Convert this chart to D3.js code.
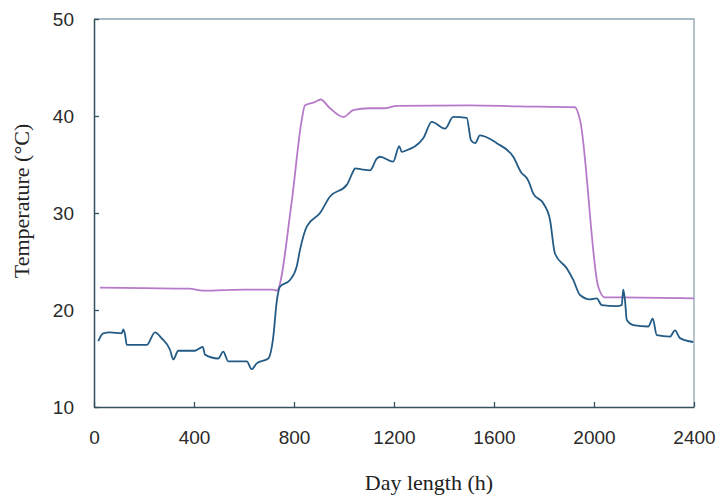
<!DOCTYPE html>
<html>
<head>
<meta charset="utf-8">
<script src="https://cdn.jsdelivr.net/npm/d3@7/dist/d3.min.js"></script>
<style>
  html, body { margin: 0; padding: 0; background: #ffffff; }
  svg { display: block; }
</style>
</head>
<body>
<svg id="chart" width="720" height="496"></svg>
<script>
// Set-point temperature over the run (hours, °C)
const setpointHours = [24, 200, 380, 436, 520, 600, 716, 731, 790, 831, 844, 880, 907, 940, 997, 1037, 1100, 1160, 1211, 1500, 1700, 1924, 1944, 2017, 2044, 2100, 2400];
const setpointTemp  = [22.3, 22.25, 22.2, 22.0, 22.05, 22.1, 22.1, 22.0, 31.0, 39.6, 41.1, 41.4, 41.7, 40.9, 39.9, 40.6, 40.8, 40.8, 41.05, 41.1, 41.0, 40.9, 39.6, 22.4, 21.3, 21.3, 21.2];

// Measured temperature over the run (hours, °C)
const measuredHours = [17, 37, 64, 111, 117, 124, 131, 211, 244, 270, 304, 317, 337, 404, 435, 444, 497, 517, 537, 611, 631, 651, 697, 717, 731, 744, 784, 811, 824, 851, 904, 944, 1011, 1037, 1044, 1070, 1104, 1131, 1144, 1197, 1221, 1231, 1244, 1317, 1351, 1404, 1437, 1491, 1508, 1524, 1544, 1611, 1677, 1711, 1731, 1741, 1757, 1797, 1824, 1844, 1891, 1917, 1944, 1984, 2011, 2031, 2091, 2111, 2117, 2124, 2131, 2157, 2217, 2235, 2251, 2304, 2324, 2344, 2397];
const measuredTemp  = [16.8, 17.6, 17.7, 17.6, 18.0, 17.5, 16.4, 16.4, 17.7, 17.1, 15.9, 14.9, 15.8, 15.8, 16.2, 15.4, 15.0, 15.7, 14.7, 14.7, 13.9, 14.5, 15.0, 17.2, 20.9, 22.4, 23.1, 24.5, 26.2, 28.6, 30.0, 31.7, 32.9, 34.3, 34.6, 34.5, 34.4, 35.6, 35.8, 35.3, 36.9, 36.3, 36.4, 37.7, 39.4, 38.7, 39.9, 39.8, 37.5, 37.2, 38.0, 37.2, 35.8, 34.1, 33.6, 33.1, 32.0, 31.0, 29.3, 25.8, 24.3, 23.1, 21.55, 21.1, 21.2, 20.5, 20.4, 20.5, 22.1, 21.0, 19.0, 18.45, 18.3, 19.1, 17.4, 17.25, 17.9, 17.1, 16.7];

// Axis ticks and titles
const xTicks = [0, 400, 800, 1200, 1600, 2000, 2400];
const yTicks = [10, 20, 30, 40, 50];
const xTitle = "Day length (h)";
const yTitle = "Temperature (°C)";

const svg = d3.select("#chart");
const plot = { left: 94, right: 694, top: 19, bottom: 407 };

const x = d3.scaleLinear().domain([0, 2400]).range([plot.left, plot.right]);
const y = d3.scaleLinear().domain([10, 50]).range([plot.bottom, plot.top]);

const axisColor = "#34515e";
const frameColor = "#8da6b3";

// Top and right frame edges
svg.append("path")
  .attr("d", `M${plot.left},${plot.top}H${plot.right}V${plot.bottom}`)
  .attr("fill", "none")
  .attr("stroke", frameColor)
  .attr("stroke-width", 1.3);

// Bottom axis, ticks pointing inward
const xAxis = svg.append("g")
  .attr("transform", `translate(0,${plot.bottom})`)
  .call(d3.axisBottom(x).tickValues(xTicks).tickFormat(d3.format("d"))
    .tickSizeInner(-5).tickSizeOuter(0).tickPadding(24));
// Left axis, ticks pointing inward
const yAxis = svg.append("g")
  .attr("transform", `translate(${plot.left},0)`)
  .call(d3.axisLeft(y).tickValues(yTicks).tickFormat(d3.format("d"))
    .tickSizeInner(-5).tickSizeOuter(0).tickPadding(20));

[xAxis, yAxis].forEach(g => {
  g.select(".domain").attr("stroke", axisColor).attr("stroke-width", 1.5);
  g.selectAll(".tick line").attr("stroke", axisColor).attr("stroke-width", 1.3);
  g.selectAll(".tick text")
    .attr("fill", "#2a2a2a")
    .style("font-family", "'Liberation Sans', Arial, sans-serif")
    .style("font-size", "19px");
});
yAxis.selectAll(".tick text").attr("dy", "0.36em");

// Series lines
const line = d3.line().x(d => x(d[0])).y(d => y(d[1])).curve(d3.curveMonotoneX);
const setpoint = setpointHours.map((h, i) => [h, setpointTemp[i]]);
const measured = measuredHours.map((h, i) => [h, measuredTemp[i]]);

svg.append("path")
  .datum(setpoint)
  .attr("d", line)
  .attr("fill", "none")
  .attr("stroke", "#b77ac9")
  .attr("stroke-width", 1.8)
  .attr("stroke-linejoin", "round");

svg.append("path")
  .datum(measured)
  .attr("d", line)
  .attr("fill", "none")
  .attr("stroke", "#245b85")
  .attr("stroke-width", 1.8)
  .attr("stroke-linejoin", "round");

// Axis titles
svg.append("text")
  .attr("x", 429)
  .attr("y", 490)
  .attr("text-anchor", "middle")
  .attr("fill", "#222")
  .style("font-family", "'Liberation Serif', 'Times New Roman', serif")
  .style("font-size", "22px")
  .text(xTitle);

svg.append("text")
  .attr("transform", "translate(29,201) rotate(-90)")
  .attr("text-anchor", "middle")
  .attr("fill", "#222")
  .style("font-family", "'Liberation Serif', 'Times New Roman', serif")
  .style("font-size", "22px")
  .text(yTitle);
</script>
</body>
</html>
